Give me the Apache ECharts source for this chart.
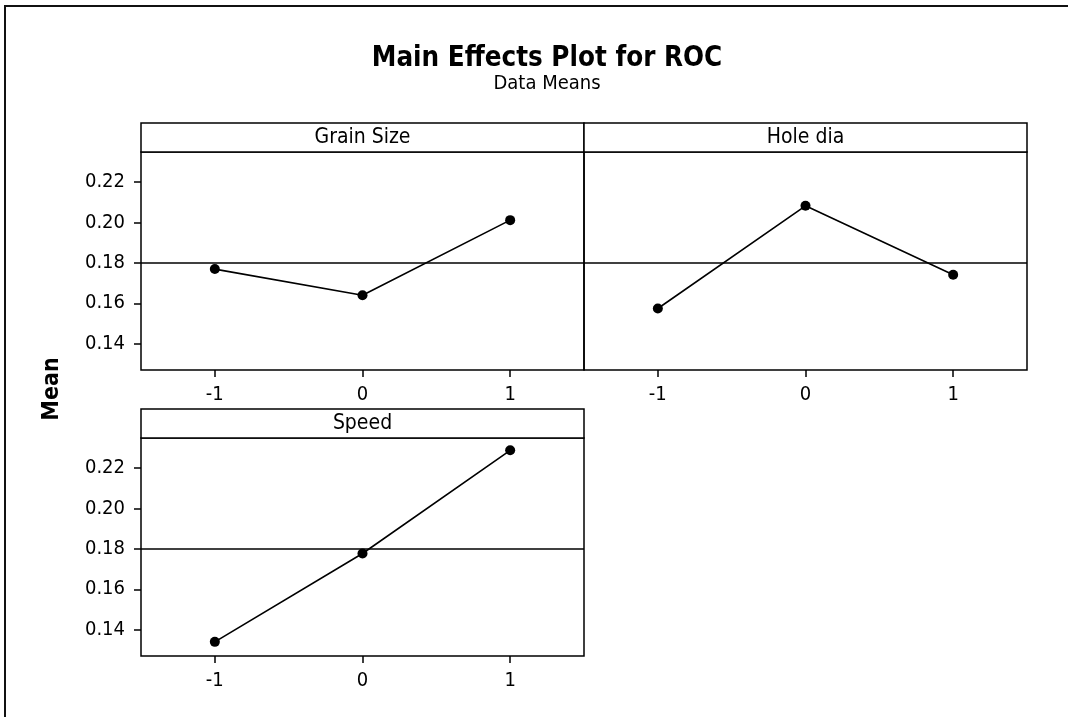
<!DOCTYPE html>
<html>
<head>
<meta charset="utf-8">
<script src="https://cdn.jsdelivr.net/npm/echarts@6/dist/echarts.min.js"></script>
<style>
html,body{margin:0;padding:0;background:#fff;}
#chart{width:1068px;height:717px;}
</style>
</head>
<body>
<div id="chart"></div>
<script>
// ---- data ----
const levels = ['-1', '0', '1'];
const panelNames = ['Grain Size', 'Hole dia', 'Speed'];
const grainSize = [0.1769, 0.1640, 0.2011];
const holeDia = [0.1574, 0.2082, 0.1741];
const speed = [0.1340, 0.1777, 0.2287];
const overallMean = 0.18;
const yTicks = [0.14, 0.16, 0.18, 0.20, 0.22];
const titleText = 'Main Effects Plot for ROC';
const subtitleText = 'Data Means';
const yName = 'Mean';

const FONT = '"DejaVu Sans Condensed", "DejaVu Sans", sans-serif';
const seriesData = [grainSize, holeDia, speed];

// panel layout (plot area below header)
const panels = [
  {left: 141, top: 152, showY: true},
  {left: 584, top: 152, showY: false},
  {left: 141, top: 438, showY: true}
];
const PW = 443, PH = 218, HH = 29;

const chart = echarts.init(document.getElementById('chart'), null, {renderer: 'canvas'});

const grids = panels.map(p => ({
  left: p.left, top: p.top, width: PW, height: PH,
  show: true, borderColor: '#000', borderWidth: 1.5, backgroundColor: 'transparent',
  containLabel: false
}));

const xAxes = panels.map((p, i) => ({
  type: 'category', gridIndex: i, data: levels, boundaryGap: true,
  axisLine: {show: false},
  axisTick: {show: true, alignWithLabel: true, length: 7, lineStyle: {color: '#000', width: 1.5}},
  axisLabel: {color: '#000', fontSize: 20, fontFamily: FONT, margin: 15},
  splitLine: {show: false}
}));

const yAxes = panels.map((p, i) => ({
  type: 'value', gridIndex: i, min: 0.127, max: 0.2348,
  axisLine: {show: false},
  axisTick: {show: p.showY, length: 7, customValues: yTicks, lineStyle: {color: '#000', width: 1.5}},
  axisLabel: {show: p.showY, customValues: yTicks, color: '#000', fontSize: 20, fontFamily: FONT, margin: 16,
    formatter: v => v.toFixed(2)},
  splitLine: {show: false}
}));

const series = panels.map((p, i) => ({
  type: 'line', xAxisIndex: i, yAxisIndex: i, data: seriesData[i],
  symbol: 'circle', symbolSize: 10, color: '#000',
  lineStyle: {color: '#000', width: 1.6},
  itemStyle: {color: '#000'},
  silent: true, animation: false,
  markLine: {
    silent: true, symbol: ['none', 'none'], label: {show: false},
    lineStyle: {color: '#000', type: 'solid', width: 1.5},
    data: [{yAxis: overallMean}]
  }
}));

const graphics = [
  {type: 'rect', shape: {x: 5, y: 6, width: 1100, height: 760}, style: {fill: 'none', stroke: '#111', lineWidth: 2}, z: 0}
];
panels.forEach((p, i) => {
  graphics.push({type: 'rect', shape: {x: p.left, y: p.top - HH, width: PW, height: HH},
    style: {fill: '#fff', stroke: '#000', lineWidth: 1.5}, z: 5});
  graphics.push({type: 'text', x: p.left + PW / 2, y: p.top - HH / 2,
    style: {text: panelNames[i], fill: '#000', font: '21px ' + FONT, textAlign: 'center', textVerticalAlign: 'middle'}, z: 6});
});
graphics.push({type: 'text', x: 52, y: 389, rotation: Math.PI / 2,
  style: {text: yName, fill: '#000', font: 'bold 23px ' + FONT, textAlign: 'center', textVerticalAlign: 'middle'}, z: 6});

chart.setOption({
  animation: false,
  backgroundColor: '#fff',
  title: {
    text: titleText, subtext: subtitleText, left: 542, textAlign: 'center', top: 40,
    itemGap: 1,
    textStyle: {fontFamily: FONT, fontSize: 27.5, fontWeight: 'bold', color: '#000'},
    subtextStyle: {fontFamily: FONT, fontSize: 20, color: '#000'}
  },
  grid: grids, xAxis: xAxes, yAxis: yAxes, series: series,
  graphic: graphics
});
</script>
</body>
</html>
